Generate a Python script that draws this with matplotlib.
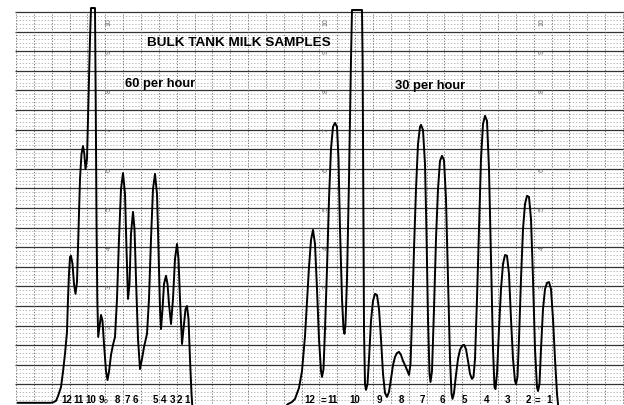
import numpy as np
import matplotlib
matplotlib.use("Agg")
import matplotlib.pyplot as plt

# Recorder trace: position along the chart paper (chart units) and pen
# deflection in percent of full scale.
trace_pos = [18, 50, 53, 56, 58, 61, 63, 65, 67, 68, 69, 70, 71, 72.5, 74, 75.5, 77,
             78.5, 80, 81.5, 83, 84.3, 85.5, 87, 88.5, 90, 91, 95, 95.7, 96.5, 97.3,
             98.2, 99.5, 101, 102.5, 104, 106, 107.5, 109, 111, 113, 115, 117, 119,
             121, 123, 125, 126.5, 128, 129.5, 131, 133, 134.5, 136, 138, 140, 142,
             144, 147, 149, 151, 153, 155, 157, 158.5, 160, 161, 162.5, 164, 166,
             167.5, 169, 171, 173, 175, 177, 178.5, 180, 182, 183.5, 185.5, 187,
             188.5, 190, 191.5, 192.5,
             283, 288, 292, 295, 299, 302, 305, 307, 309, 311, 313, 315, 317, 319,
             321, 322, 323.5, 325, 327, 329, 331, 333, 335, 337, 338.5, 340, 342,
             343.5, 344.5, 345.5, 347, 349, 351, 352, 362, 362.6, 363.3, 364, 365,
             366, 367.5, 369, 371, 373, 375, 377, 379, 381, 383, 385, 387, 389, 391,
             393, 395, 397, 399, 401, 403, 405, 407, 409, 410.5, 412, 414, 416, 418,
             420, 421, 423, 425, 426.5, 428, 429.5, 430.5, 432, 434, 436, 438, 440,
             442, 444, 446, 448, 450, 451.5, 452.5, 454, 456, 458, 460, 462, 464,
             466, 468, 470, 472, 473.5, 475, 477, 479, 481, 483, 485, 487, 489, 491,
             493, 494.5, 495.5, 497, 499, 501, 503, 505, 507, 509, 511, 513, 515,
             516, 517.5, 519, 521, 523, 525, 527, 529, 531, 533, 535, 537, 538,
             539.5, 541, 543, 545, 547, 549, 551, 553, 555, 557, 558.5]
trace_pct = [0.3, 0.3, 0.4, 0.8, 2.0, 4.3, 8.2, 12.8, 18.4, 26.8, 33.2, 37.5, 37.8, 35.7,
             30.6, 28.1, 31.1, 44.6, 57.4, 63.8, 65.8, 63.8, 59.9, 62.5, 77.8, 93.1,
             101.0, 101.0, 77.8, 47.2, 26.8, 17.1, 19.6, 22.7, 21.2, 15.3, 8.4, 6.1,
             8.2, 12.5, 15.1, 17.1, 26.8, 42.1, 54.8, 58.9, 53.6, 39.5, 26.8, 30.6,
             43.4, 49.0, 44.6, 31.9, 16.6, 8.9, 11.5, 14.5, 17.9, 26.8, 42.1, 54.8,
             58.7, 53.6, 39.5, 24.2, 19.1, 24.2, 30.6, 32.7, 30.6, 25.5, 20.4, 26.8,
             37.0, 40.8, 37.0, 26.8, 15.3, 19.1, 24.2, 25.0, 21.7, 11.5, 2.6, -1.3,
             -1.3, 0.0, 0.5, 1.3, 4.1, 8.4, 17.3, 26.0, 34.9, 41.8, 44.4, 40.8, 29.3,
             16.6, 8.4, 6.9, 8.9, 19.1, 34.4, 52.3, 65.1, 70.7, 71.7, 70.7, 62.5,
             44.6, 26.8, 19.1, 17.9, 20.4, 31.9, 57.4, 88.0, 100.5, 100.5, 88.0, 52.3,
             19.1, 5.1, 3.6, 5.1, 11.5, 21.2, 26.3, 28.1, 27.8, 24.2, 16.6, 7.7, 2.8,
             1.8, 3.1, 6.4, 9.9, 12.0, 13.0, 13.3, 12.5, 11.0, 9.9, 8.7, 7.4, 10.2,
             21.7, 39.5, 54.8, 66.3, 70.7, 71.2, 69.9, 61.2, 43.4, 21.7, 7.7, 5.6,
             8.4, 24.2, 42.1, 54.8, 62.0, 63.3, 62.2, 52.3, 31.9, 11.5, 2.6, 1.3, 2.8,
             7.4, 11.5, 13.8, 14.8, 15.1, 14.0, 11.0, 7.7, 6.4, 6.9, 11.5, 26.8, 44.6,
             62.5, 71.4, 73.5, 72.2, 59.9, 37.0, 14.0, 4.3, 3.8, 7.7, 19.1, 29.3,
             35.7, 38.0, 37.8, 33.2, 21.7, 11.5, 5.9, 5.1, 6.9, 16.6, 31.9, 44.6,
             51.0, 53.1, 52.8, 47.2, 31.9, 14.0, 4.3, 3.3, 5.1, 14.0, 24.2, 29.3,
             30.9, 31.1, 29.3, 21.7, 11.5, 2.6, -1.3]

# Sample numbers written under the peaks
left_labels = ["12", "11", "10", "9", "8", "7", "6", "5", "4", "3", "2", "1"]
left_label_pos = [67, 78, 91, 101.5, 117, 127.5, 135.5, 155, 163.5, 172.5, 179, 187]
right_labels = ["12", "=", "11", "10", "9", "8", "7", "6", "5", "4", "3", "2", "=", "1"]
right_label_pos = [310, 323, 333, 355, 379, 401, 422, 442, 464, 487, 507, 528, 537, 549]

# Printed scale numbers on the chart paper
scale_labels = ["10", "9", "8", "7", "6", "5", "4", "3", "2"]
scale_pct = [97.7, 90, 80, 70, 60, 50, 40, 30, 20]
scale_columns = [109, 326, 542]

FONT = "Liberation Sans"


def draw_paper(ax):
    """Chart paper: heavy lines every 5 %, faint 1 % rules, dotted time lines."""
    minor = [p for p in range(1, 101) if p % 5 != 0]
    ax.hlines(minor, 16, 624, colors="#a0a0a0", linewidth=0.5,
              linestyles=(0, (2, 2.5)), zorder=1)
    ax.hlines(np.arange(5, 101, 5), 15, 624, colors="#333333", linewidth=0.9, zorder=2)
    ax.vlines(np.arange(16, 624, 17.85), -0.5, 100, colors="#606060", linewidth=0.6,
              linestyles=(0, (1.5, 2)), zorder=2)
    for col in scale_columns:
        for lab, p in zip(scale_labels, scale_pct):
            ax.text(col, p, lab, fontsize=5, color="#666666", rotation=90,
                    ha="center", va="center", family=FONT, zorder=3)


def generate_chart():
    fig = plt.figure(figsize=(6.24, 4.06), dpi=100)
    ax = fig.add_axes([0, 0, 1, 1])
    ax.set_xlim(0, 624)
    ax.set_ylim(-0.26, 103.3)
    ax.axis("off")

    draw_paper(ax)

    # Pen trace
    ax.plot(trace_pos, trace_pct, color="black", linewidth=1.4,
            solid_joinstyle="round", zorder=5)

    # Headings
    ax.text(147, 91.6, "BULK TANK MILK SAMPLES", fontsize=9.7, fontweight="bold",
            family=FONT, ha="left", va="baseline", zorder=6)
    ax.text(125, 81.1, "60 per hour", fontsize=9.3, fontweight="bold",
            family=FONT, ha="left", va="baseline", zorder=6)
    ax.text(395, 80.6, "30 per hour", fontsize=9.3, fontweight="bold",
            family=FONT, ha="left", va="baseline", zorder=6)

    # Sample numbers along the bottom edge
    for lab, x in zip(left_labels, left_label_pos):
        ax.text(x, 0.6, lab, fontsize=7, fontweight="bold", family=FONT,
                ha="center", va="baseline", zorder=6)
    ax.text(106, 0.6, "o", fontsize=5, family=FONT, ha="center", va="baseline", zorder=6)
    for lab, x in zip(right_labels, right_label_pos):
        ax.text(x, 0.4, lab, fontsize=7, fontweight="bold", family=FONT,
                ha="center", va="baseline", zorder=6)

    fig.savefig("out.png", dpi=100, facecolor="white")


if __name__ == "__main__":
    generate_chart()
